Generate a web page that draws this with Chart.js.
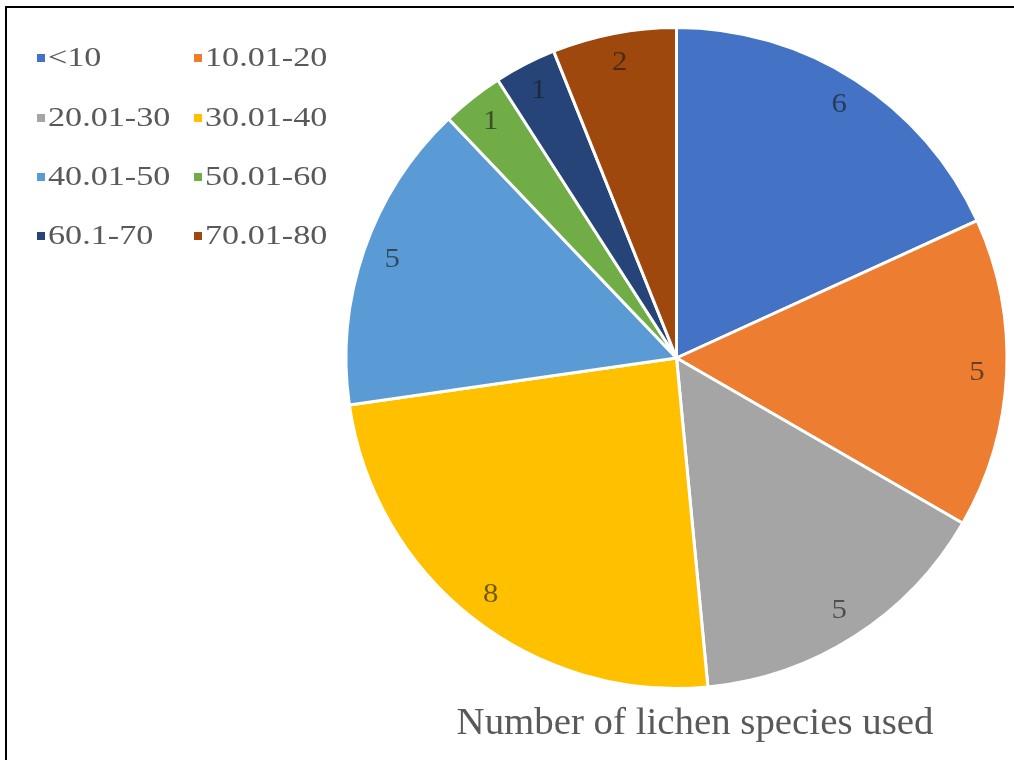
<!DOCTYPE html>
<html>
<head>
<meta charset="utf-8">
<script src="https://cdn.jsdelivr.net/npm/chart.js@4.4.1/dist/chart.umd.min.js"></script>
<style>
html,body{margin:0;padding:0;background:#fff;}
#wrap{position:relative;width:1014px;height:760px;}
#frame{position:absolute;left:5px;top:6px;right:0;bottom:0;border-left:2px solid #000;border-top:2px solid #000;pointer-events:none;}
canvas{position:absolute;left:0;top:0;}
</style>
</head>
<body>
<div id="wrap"><canvas id="c" width="1014" height="760"></canvas><div id="frame"></div></div>
<script>
const categories = ['<10','10.01-20','20.01-30','30.01-40','40.01-50','50.01-60','60.1-70','70.01-80'];
const values = [6,5,5,8,5,1,1,2];
const colors = ['#4472C4','#ED7D31','#A5A5A5','#FFC000','#5B9BD5','#70AD47','#264478','#9E480E'];
const chartTitle = 'Number of lichen species used';

const serif = '"Liberation Serif","Times New Roman",serif';

function stretchedText(ctx, text, x, y, sx){
  ctx.save();
  ctx.translate(x, y);
  ctx.scale(sx, 1);
  ctx.fillText(text, 0, 0);
  ctx.restore();
}

const overlay = {
  id:'overlay',
  afterDatasetsDraw(chart){
    const ctx = chart.ctx;
    const meta = chart.getDatasetMeta(0);
    ctx.save();
    ctx.font = '28px ' + serif;
    ctx.textAlign = 'center';
    ctx.textBaseline = 'middle';
    ctx.fillStyle = 'rgba(25,25,25,0.62)';
    meta.data.forEach((arc,i)=>{
      const p = arc.getProps(['x','y','startAngle','endAngle','outerRadius'],true);
      const a = (p.startAngle+p.endAngle)/2;
      const r = p.outerRadius*0.91;
      stretchedText(ctx, String(values[i]), p.x+Math.cos(a)*r, p.y+Math.sin(a)*r, 1.1);
    });
    ctx.restore();
  },
  afterDraw(chart){
    const ctx = chart.ctx;
    ctx.save();
    // legend
    ctx.font = '28px ' + serif;
    ctx.textBaseline = 'middle';
    ctx.textAlign = 'left';
    const colX = [37,194];
    const rowY = [58,118,177,236];
    categories.forEach((c,i)=>{
      const col = i%2, row = Math.floor(i/2);
      ctx.fillStyle = colors[i];
      ctx.fillRect(colX[col], rowY[row]-4, 8, 8);
      ctx.fillStyle = '#595959';
      stretchedText(ctx, c, colX[col]+11, rowY[row]+1, 1.22);
    });
    // title
    ctx.font = '37px ' + serif;
    ctx.textAlign = 'center';
    ctx.textBaseline = 'alphabetic';
    ctx.fillStyle = '#595959';
    stretchedText(ctx, chartTitle, 695, 734, 1.05);
    ctx.restore();
  }
};

new Chart(document.getElementById('c'),{
  type:'pie',
  data:{labels:categories,datasets:[{data:values,backgroundColor:colors,borderColor:'#fff',borderWidth:3}]},
  options:{
    responsive:false,animation:false,
    layout:{padding:{left:344,right:5,top:26,bottom:70}},
    plugins:{legend:{display:false},tooltip:{enabled:false},title:{display:false}}
  },
  plugins:[overlay]
});
</script>
</body>
</html>
